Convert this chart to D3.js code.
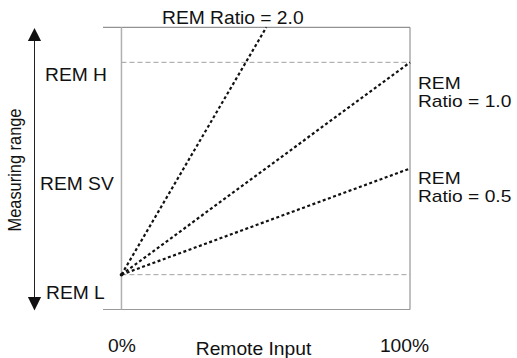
<!DOCTYPE html>
<html>
<head>
<meta charset="utf-8">
<script src="https://cdn.jsdelivr.net/npm/d3@7"></script>
<style>
  html, body { margin: 0; padding: 0; background: #fff; }
  svg { display: block; }
  text { font-family: "Liberation Sans", Arial, Helvetica, sans-serif; fill: #111; }
</style>
</head>
<body>
<svg id="chart" width="517" height="358"></svg>
<script>
// ---- data ----
const xDomain = [-6.4, 100];          // remote input (%), frame extent
const yDomain = [-16.4, 116.5];       // measuring range, REM L = 0, REM H = 100
const xTickValues = [0, 100];
const xTickLabels = ["0%", "100%"];
const rangeLevels = [100, 0];         // REM H, REM L dashed lines
const rangeLabelValues = [100, 50, 0];
const rangeLabels = ["REM H", "REM SV", "REM L"];
const ratios = [2.0, 1.0, 0.5];
const ratioEndX = [50.2, 100, 100];
const ratioEndY = [116.5, 100, 50];
const ratioLabels = [["REM Ratio = 2.0"], ["REM", "Ratio = 1.0"], ["REM", "Ratio = 0.5"]];
const xTitle = "Remote Input";
const yTitle = "Measuring range";

// ---- drawing ----
const svg = d3.select("#chart");
const x = d3.scaleLinear().domain(xDomain).range([103, 410]);
const y = d3.scaleLinear().domain(yDomain).range([309.5, 27.3]);
const SX = 1.1;   // horizontal stretch of the text in the reference
const FS = 17.5;

function txt(g, s, tx, ty, anchor) {
  return g.append("text")
    .attr("transform", `translate(${tx},${ty}) scale(${SX},1)`)
    .attr("text-anchor", anchor || "start")
    .style("font-size", FS + "px")
    .text(s);
}

// frame
svg.append("line").attr("x1", x(xDomain[0])).attr("x2", x(100))
  .attr("y1", y(yDomain[1])).attr("y2", y(yDomain[1]))
  .attr("stroke", "#777").attr("stroke-width", 1);
svg.append("line").attr("x1", x(xDomain[0])).attr("x2", x(100))
  .attr("y1", y(yDomain[0])).attr("y2", y(yDomain[0]))
  .attr("stroke", "#999").attr("stroke-width", 1);
svg.append("line").attr("x1", x(100)).attr("x2", x(100))
  .attr("y1", y(yDomain[1])).attr("y2", y(yDomain[0]))
  .attr("stroke", "#808080").attr("stroke-width", 1);
svg.append("line").attr("x1", x(0)).attr("x2", x(0))
  .attr("y1", y(yDomain[1])).attr("y2", y(yDomain[0]))
  .attr("stroke", "#b0b0b0").attr("stroke-width", 1.5);

// dashed range levels
svg.selectAll("line.level").data(rangeLevels).enter().append("line")
  .attr("class", "level")
  .attr("x1", x(0)).attr("x2", x(100))
  .attr("y1", d => y(d)).attr("y2", d => y(d))
  .attr("stroke", "#a0a0a0").attr("stroke-width", 1)
  .attr("stroke-dasharray", "5,3");

// ratio lines
const series = ratios.map((r, i) => ({ r, pts: [[0, 0], [ratioEndX[i], ratioEndY[i]]] }));
const line = d3.line().x(d => x(d[0])).y(d => y(d[1]));
svg.selectAll("path.ratio").data(series).enter().append("path")
  .attr("class", "ratio")
  .attr("d", d => line(d.pts))
  .attr("fill", "none")
  .attr("stroke", "#111")
  .attr("stroke-width", 2.2)
  .attr("stroke-dasharray", "3,2.5");
svg.append("circle").attr("cx", x(0)).attr("cy", y(0)).attr("r", 1.8).attr("fill", "#111");

// ratio labels
txt(svg, ratioLabels[0][0], 162, 24);
[1, 2].forEach(i => {
  const by = y(ratioEndY[i]) + (i === 1 ? 26.5 : 15);
  const t = svg.append("text")
    .attr("transform", `translate(418,${by}) scale(1.2,1)`)
    .style("font-size", "16px");
  ratioLabels[i].forEach((s, k) => t.append("tspan").attr("x", 0).attr("y", k * 18).text(s));
});

// range labels (left)
const labelOffsets = [19, 21.5, 24.6];
const labelX = [45, 40, 46];
rangeLabels.forEach((s, i) => txt(svg, s, labelX[i], y(rangeLabelValues[i]) + labelOffsets[i]));

// x tick labels
xTickValues.forEach((v, i) => txt(svg, xTickLabels[i], x(v) + (i === 0 ? 0.5 : -5.5), 351.7, "middle"));
txt(svg, xTitle, 253.5, 355, "middle");

// y title
svg.append("text")
  .attr("transform", `translate(21,170) scale(${SX},1) rotate(-90)`)
  .attr("text-anchor", "middle")
  .style("font-size", "16.4px")
  .text(yTitle);

// double arrow
const ax = 34.5;
svg.append("line").attr("x1", ax).attr("x2", ax).attr("y1", 38).attr("y2", 300)
  .attr("stroke", "#222").attr("stroke-width", 1);
svg.append("path").attr("d", `M${ax},28 L${ax - 6.6},41 L${ax + 6.6},41 Z`).attr("fill", "#111");
svg.append("path").attr("d", `M${ax},310.5 L${ax - 6.6},297 L${ax + 6.6},297 Z`).attr("fill", "#111");
</script>
</body>
</html>
